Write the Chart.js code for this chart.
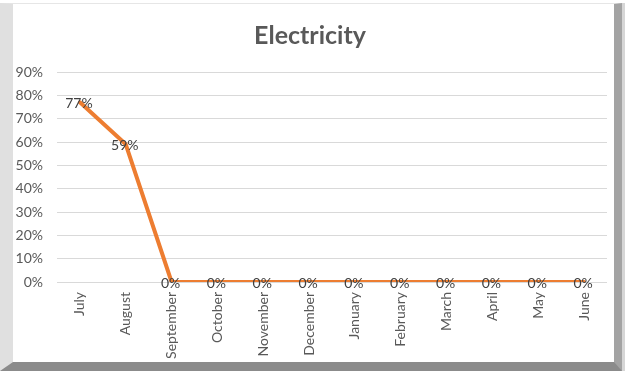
<!DOCTYPE html>
<html lang="en">

<head>
    <meta charset="UTF-8">
    <title>Electricity</title>
    <script src="https://cdn.jsdelivr.net/npm/chart.js"></script>
    <style>
        body {
            margin: 0;
            background: #ffffff;
        }

        #frame {
            position: absolute;
            left: 0;
            top: 3px;
            width: 601px;
            height: 358px;
            border-top: 1px solid #e6e6e6;
            border-left: 13px solid #e0e0e0;
            border-right: 8px solid #a3a3a3;
            border-bottom: 9px solid #8b8b8b;
            box-shadow: 3px 0 0 #d6d6d6;
            background: #ffffff;
        }

        canvas {
            display: block;
        }
    </style>
</head>

<body>
    <div id="frame">
        <canvas id="chart" width="601" height="358"></canvas>
    </div>
    <script>
        // chart data
        const months = ['July', 'August', 'September', 'October', 'November', 'December',
            'January', 'February', 'March', 'April', 'May', 'June'];
        const electricity = [77, 59, 0, 0, 0, 0, 0, 0, 0, 0, 0, 0];
        const yMax = 90;
        const yStep = 10;

        // draws the "77%" style labels on top of each point
        const pointLabels = {
            id: 'pointLabels',
            afterDatasetsDraw(chart) {
                const ctx = chart.ctx;
                const meta = chart.getDatasetMeta(0);
                ctx.save();
                ctx.font = '14px Lato';
                ctx.fillStyle = '#404040';
                ctx.textAlign = 'center';
                ctx.textBaseline = 'middle';
                meta.data.forEach(function (pt, i) {
                    ctx.fillText(electricity[i] + '%', pt.x - 1, pt.y + 1);
                });
                ctx.restore();
            }
        };

        new Chart(document.getElementById('chart'), {
            type: 'line',
            data: {
                labels: months,
                datasets: [{
                    label: 'Electricity',
                    data: electricity,
                    borderColor: '#ed7d31',
                    backgroundColor: '#ed7d31',
                    borderWidth: 4,
                    borderJoinStyle: 'round',
                    borderCapStyle: 'round',
                    pointRadius: 0,
                    tension: 0
                }]
            },
            options: {
                responsive: false,
                animation: false,
                layout: { padding: { left: 0, right: 7, top: 0, bottom: 0 } },
                plugins: {
                    legend: { display: false },
                    tooltip: { enabled: false },
                    title: {
                        display: true,
                        text: 'Electricity',
                        color: '#595959',
                        font: { family: 'Lato', size: 25, weight: 'bold' },
                        padding: { top: 17, bottom: 21 }
                    }
                },
                scales: {
                    x: {
                        offset: true,
                        grid: { display: false },
                        border: { display: false },
                        ticks: {
                            color: '#595959',
                            font: { family: 'Lato', size: 14 },
                            minRotation: 90,
                            maxRotation: 90,
                            autoSkip: false,
                            padding: 2
                        },
                        afterFit(scale) { scale.height = 80; }
                    },
                    y: {
                        min: 0,
                        max: yMax,
                        border: { display: false },
                        grid: { color: '#d9d9d9', drawTicks: false },
                        ticks: {
                            stepSize: yStep,
                            color: '#595959',
                            font: { family: 'Lato', size: 14 },
                            padding: 14,
                            callback: function (v) { return v + '%'; }
                        },
                        afterFit(scale) { scale.width = 44; }
                    }
                }
            },
            plugins: [pointLabels]
        });
    </script>
</body>

</html>
